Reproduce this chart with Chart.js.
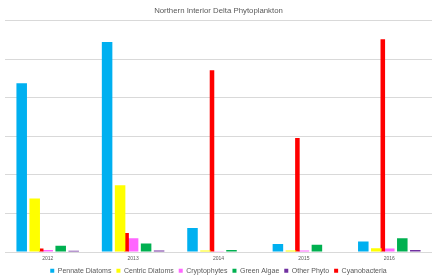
<!DOCTYPE html>
<html>
<head>
<meta charset="utf-8">
<script src="https://cdn.jsdelivr.net/npm/chart.js@4.4.1/dist/chart.umd.min.js"></script>
<style>
  html, body { margin: 0; padding: 0; background: #fff; }
</style>
</head>
<body>
<canvas id="chart" width="438" height="280"></canvas>
<script>
// values, in gridline units (no axis labels shown)
const years = ['2012', '2013', '2014', '2015', '2016'];
const pennate = [4.38, 5.45, 0.62, 0.21, 0.27];
const centric = [1.39, 1.73, 0.04, 0.04, 0.10];
const crypto = [0.05, 0.36, 0.02, 0.04, 0.09];
const greenAlgae = [0.16, 0.22, 0.05, 0.19, 0.36];
const otherPhyto = [0.03, 0.04, 0, 0, 0.05];
const cyano = [0.09, 0.49, 4.72, 2.96, 5.52];
const legendOrder = ['Pennate Diatoms', 'Centric Diatoms', 'Cryptophytes',
  'Green Algae', 'Other Phyto', 'Cyanobacteria'];

const textColor = '#595959';
const font = 'Liberation Sans, Arial, sans-serif';

// each year is split into 9 narrow slots: the five main series use every
// other slot (drawn wide), the thin cyanobacteria bar takes the one just
// left of centre, empty spacer sets fill the rest
const wide = 1.62;
const spacer = () => ({ label: '', data: [], barPercentage: wide });

new Chart(document.getElementById('chart'), {
  type: 'bar',
  data: {
    labels: years,
    datasets: [
      { label: 'Pennate Diatoms', data: pennate, backgroundColor: '#00B0F0', barPercentage: wide },
      spacer(),
      { label: 'Centric Diatoms', data: centric, backgroundColor: '#FFFF00', barPercentage: wide },
      { label: 'Cyanobacteria', data: cyano, backgroundColor: '#FF0000', barPercentage: 0.7 },
      { label: 'Cryptophytes', data: crypto, backgroundColor: '#FF66FF', barPercentage: wide },
      spacer(),
      { label: 'Green Algae', data: greenAlgae, backgroundColor: '#00B050', barPercentage: wide },
      spacer(),
      { label: 'Other Phyto', data: otherPhyto, backgroundColor: '#7030A0', barPercentage: wide }
    ]
  },
  options: {
    responsive: false,
    animation: false,
    layout: { padding: { left: 5, right: 6, top: 0, bottom: -4.2 } },
    datasets: {
      bar: { categoryPercentage: 0.685 }
    },
    plugins: {
      title: {
        display: true,
        text: 'Northern Interior Delta Phytoplankton',
        color: textColor,
        font: { family: font, size: 7.8, weight: 'normal' },
        padding: { top: 6, bottom: 5.5 }
      },
      legend: {
        position: 'bottom',
        labels: {
          color: textColor,
          font: { family: font, size: 7 },
          boxWidth: 4,
          boxHeight: 4,
          padding: 5,
          filter: item => item.text !== '',
          sort: (a, b) => legendOrder.indexOf(a.text) - legendOrder.indexOf(b.text)
        }
      },
      tooltip: { enabled: false }
    },
    scales: {
      x: {
        grid: { display: false, drawTicks: false },
        border: { display: false },
        ticks: { color: textColor, font: { family: font, size: 5 }, padding: 4 },
        afterFit: s => { s.height = 10.2; }
      },
      y: {
        min: 0,
        max: 6,
        ticks: { display: false, stepSize: 1 },
        border: { display: false },
        grid: { color: '#D9D9D9', drawTicks: false }
      }
    }
  }
});
</script>
</body>
</html>
